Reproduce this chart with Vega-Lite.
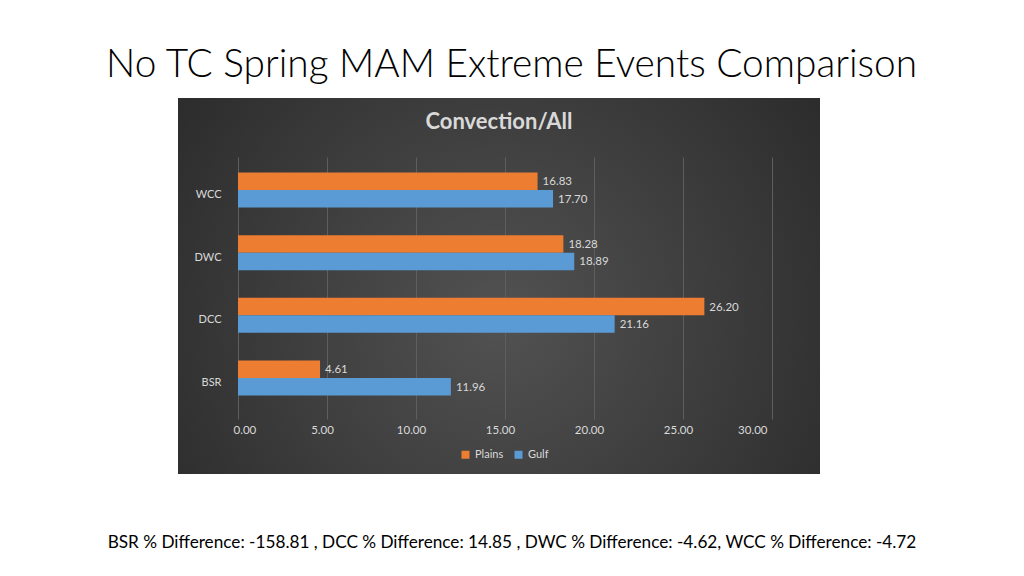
{
  "$schema": "https://vega.github.io/schema/vega-lite/v6.json",
  "background": "white",
  "padding": {"left": 105, "top": 46, "right": 100, "bottom": 26},
  "title": {
    "text": "No TC Spring MAM Extreme Events Comparison",
    "font": "Lato",
    "fontSize": 38.8,
    "fontWeight": 300,
    "color": "#000000",
    "anchor": "middle",
    "offset": 13
  },
  "vconcat": [
    {
      "width": 642,
      "height": 376,
      "view": {
        "stroke": null,
        "fill": {
          "gradient": "radial",
          "x1": 0.5, "y1": 0.55, "r1": 0,
          "x2": 0.5, "y2": 0.55, "r2": 0.7,
          "stops": [
            {"offset": 0, "color": "#525252"},
            {"offset": 1, "color": "#262626"}
          ]
        }
      },
      "title": {
        "text": "Convection/All",
        "font": "Lato",
        "fontSize": 22,
        "fontWeight": "bold",
        "color": "#d9d9d9",
        "anchor": "middle",
        "offset": -36
      },
      "data": {
        "values": [
          {"cat": "WCC", "series": "Plains", "value": 16.83},
          {"cat": "WCC", "series": "Gulf", "value": 17.70},
          {"cat": "DWC", "series": "Plains", "value": 18.28},
          {"cat": "DWC", "series": "Gulf", "value": 18.89},
          {"cat": "DCC", "series": "Plains", "value": 26.20},
          {"cat": "DCC", "series": "Gulf", "value": 21.16},
          {"cat": "BSR", "series": "Plains", "value": 4.61},
          {"cat": "BSR", "series": "Gulf", "value": 11.96}
        ]
      },
      "encoding": {
        "y": {
          "field": "cat",
          "type": "nominal",
          "sort": ["WCC", "DWC", "DCC", "BSR"],
          "scale": {"range": [55, 317], "paddingInner": 0.442, "paddingOuter": 0.31},
          "axis": {
            "title": null,
            "orient": "left",
            "offset": -60,
            "domain": false,
            "ticks": false,
            "tickSize": 0,
            "labelPadding": 17,
            "labelOffset": 5,
            "labelColor": "#d9d9d9",
            "labelFont": "Lato",
            "labelFontSize": 11,
            "grid": false
          }
        },
        "yOffset": {
          "field": "series",
          "type": "nominal",
          "sort": ["Plains", "Gulf"],
          "scale": {"paddingInner": 0, "paddingOuter": 0}
        },
        "x": {
          "field": "value",
          "type": "quantitative",
          "scale": {"domain": [0, 30], "range": [60, 594], "nice": false},
          "axis": {
            "orient": "bottom",
            "offset": -54,
            "values": [0, 5, 10, 15, 20, 25, 30],
            "format": ".2f",
            "domain": false,
            "ticks": false,
            "tickSize": 0,
            "labelPadding": 4,
            "labelOffset": -5,
            "labelColor": "#d9d9d9",
            "labelFont": "Lato",
            "labelFontSize": 11.5,
            "grid": true,
            "gridColor": "#5e5e5e",
            "gridWidth": 1,
            "title": "BSR % Difference: -158.81 , DCC % Difference: 14.85 , DWC % Difference: -4.62, WCC % Difference: -4.72",
            "titleFont": "Lato",
            "titleFontSize": 17.2,
            "titleFontWeight": "normal",
            "titleColor": "#000000",
            "titleBaseline": "top",
            "titleAnchor": "middle",
            "titleX": 333.5,
            "titleY": 113
          }
        }
      },
      "layer": [
        {
          "mark": {"type": "bar"},
          "encoding": {
            "color": {
              "field": "series",
              "type": "nominal",
              "scale": {"domain": ["Plains", "Gulf"], "range": ["#ED7D31", "#5B9BD5"]},
              "legend": {
                "title": null,
                "orient": "none",
                "direction": "horizontal",
                "legendX": 282,
                "legendY": 351,
                "symbolType": "square",
                "symbolSize": 64,
                "symbolStrokeWidth": 0,
                "labelColor": "#d9d9d9",
                "labelFont": "Lato",
                "labelFontSize": 11,
                "labelOffset": 4,
                "columnPadding": 9
              }
            }
          }
        },
        {
          "mark": {"type": "text", "align": "left", "baseline": "middle", "dx": 5, "dy": 1, "font": "Lato", "fontSize": 11.5, "color": "#d9d9d9"},
          "encoding": {
            "text": {"field": "value", "type": "quantitative", "format": ".2f"}
          }
        }
      ]
    }
  ]
}
